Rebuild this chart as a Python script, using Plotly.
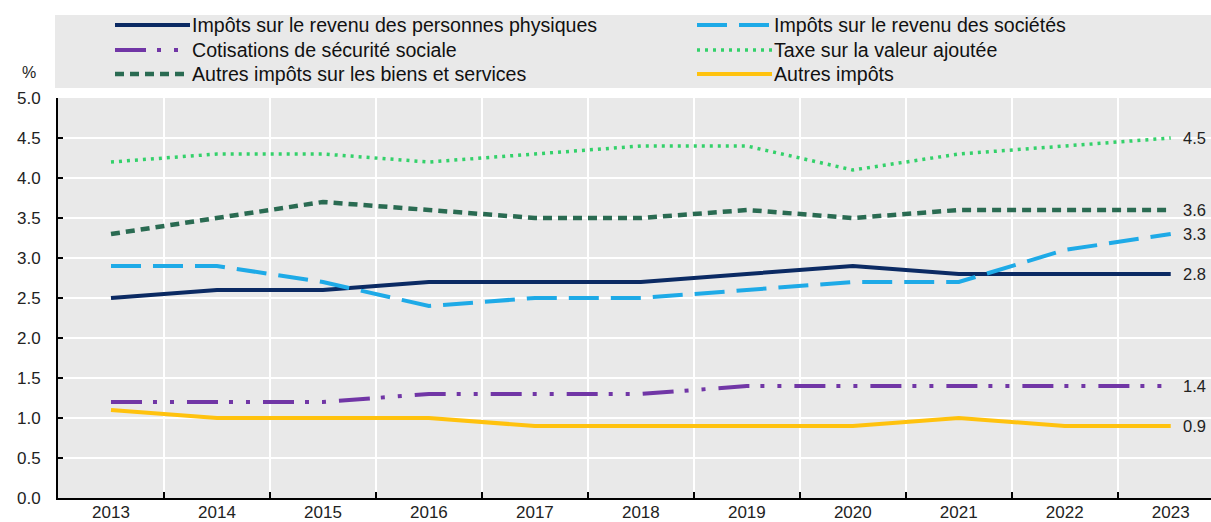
import plotly.graph_objects as go

years = ["2013", "2014", "2015", "2016", "2017", "2018", "2019", "2020", "2021", "2022", "2023"]

pit = [2.5, 2.6, 2.6, 2.7, 2.7, 2.7, 2.8, 2.9, 2.8, 2.8, 2.8]
cit = [2.9, 2.9, 2.7, 2.4, 2.5, 2.5, 2.6, 2.7, 2.7, 3.1, 3.3]
ssc = [1.2, 1.2, 1.2, 1.3, 1.3, 1.3, 1.4, 1.4, 1.4, 1.4, 1.4]
vat = [4.2, 4.3, 4.3, 4.2, 4.3, 4.4, 4.4, 4.1, 4.3, 4.4, 4.5]
other_gs = [3.3, 3.5, 3.7, 3.6, 3.5, 3.5, 3.6, 3.5, 3.6, 3.6, 3.6]
other = [1.1, 1.0, 1.0, 1.0, 0.9, 0.9, 0.9, 0.9, 1.0, 0.9, 0.9]

names = [
    "Impôts sur le revenu des personnes physiques",
    "Impôts sur le revenu des sociétés",
    "Cotisations de sécurité sociale",
    "Taxe sur la valeur ajoutée",
    "Autres impôts sur les biens et services",
    "Autres impôts",
]
series = [pit, cit, ssc, vat, other_gs, other]
colors = ["#0B2A63", "#1EAAE7", "#7136A6", "#33D16A", "#2A6B52", "#FFC20E"]
dashes = ["solid", "30px,12px", "31px,11px,4px,13px,4px,13px", "3px,5px", "9px,6px", "solid"]
widths = [4, 4, 4, 3.5, 4.5, 4]

FONT = "Liberation Sans, Arial, sans-serif"

# plot-area geometry (pixels) used to place the legend in paper coordinates
L, R, T, B = 58, 1211, 98, 498
PW, PH = R - L, B - T


def px(xp):
    return (xp - L) / PW


def py(yp):
    return (B - yp) / PH


fig = go.Figure()
for nm, ys, c, d, w in zip(names, series, colors, dashes, widths):
    fig.add_trace(go.Scatter(x=years, y=ys, name=nm, mode="lines",
                             line=dict(color=c, width=w, dash=d), showlegend=False))

# end labels (category index of the last year)
last = len(years) - 1
for ys in series:
    fig.add_annotation(x=last, y=ys[-1], xref="x", yref="y", text=f"{ys[-1]:.1f}",
                       showarrow=False, xanchor="left", xshift=10,
                       font=dict(size=16.5, color="#222", family=FONT))

# legend background band
fig.add_shape(type="rect", xref="paper", yref="paper", x0=px(55), x1=1.0, y0=py(88), y1=py(15),
              fillcolor="#E9E9E9", line=dict(width=0), layer="below")

# manual two-column legend
col_x = [115, 697]
row_y = [25, 50, 74]
for i, (nm, c, d, w) in enumerate(zip(names, colors, dashes, widths)):
    cx = col_x[i % 2]
    ry = row_y[i // 2]
    fig.add_shape(type="line", xref="paper", yref="paper", x0=px(cx), x1=px(cx + 75),
                  y0=py(ry), y1=py(ry), line=dict(color=c, width=w, dash=d))
    fig.add_annotation(xref="paper", yref="paper", x=px(cx + 75), y=py(ry), text=nm,
                       showarrow=False, xanchor="left", yanchor="middle",
                       font=dict(size=19.6, color="#111", family=FONT))

fig.add_annotation(xref="paper", yref="paper", x=px(38), y=py(72), text="%", showarrow=False,
                   xanchor="right", yanchor="middle", font=dict(size=16, color="#222", family=FONT))

fig.update_layout(
    width=1211, height=522,
    margin=dict(l=L, r=0, t=T, b=522 - B),
    paper_bgcolor="white", plot_bgcolor="#E9E9E9",
    font=dict(family=FONT, size=17, color="#222"),
    showlegend=False,
    xaxis=dict(type="category", range=[-0.5, 10.38], tickson="boundaries",
               showgrid=True, gridcolor="white", gridwidth=2,
               showline=True, linecolor="black", linewidth=2,
               ticks="inside", ticklen=6, tickcolor="black", tickwidth=2,
               ticklabelstandoff=-2,
               tickfont=dict(size=17, color="#222"), zeroline=False),
    yaxis=dict(range=[0, 5.0], dtick=0.5, tickformat=".1f",
               showgrid=True, gridcolor="white", gridwidth=2,
               showline=True, linecolor="black", linewidth=2,
               ticks="inside", ticklen=5, tickcolor="black", tickwidth=2,
               ticklabelstandoff=12,
               tickfont=dict(size=17, color="#222"), zeroline=False),
)

fig.write_html("out.html", config={"displayModeBar": False},
               post_script="document.body.style.margin='0';"
                           "document.documentElement.style.overflow='hidden';")
